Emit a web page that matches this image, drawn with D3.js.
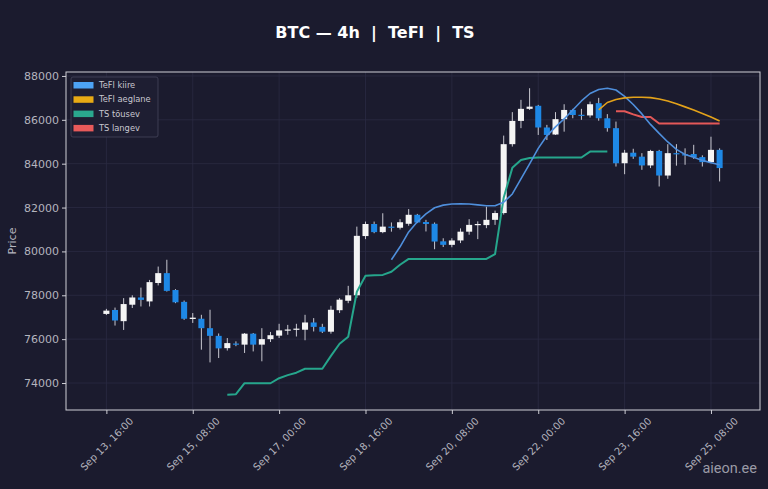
<!DOCTYPE html>
<html><head><meta charset="utf-8">
<script src="https://cdn.jsdelivr.net/npm/d3@7/dist/d3.min.js"></script>
<style>html,body{margin:0;padding:0;background:#1b1b2e;}svg{display:block;}</style>
</head><body>
<script>
// ---- data ----
const startTime = "2025-09-13T16:00:00Z"; // first candle, 4h interval
const opens  = [77150,77330,76820,77570,77900,77720,78560,79010,78240,77700,76920,76930,76500,76150,75590,75800,75750,76250,75750,76000,76160,76400,76440,76430,76760,76560,76340,77320,77750,78000,80700,81250,80880,81130,81080,81260,81670,81340,81260,80460,80300,80500,80900,81200,81200,81440,81750,84890,85950,86500,86640,85650,85330,86030,86450,86230,86200,86760,86070,85620,84020,84500,84320,83920,84580,83460,84480,84430,84440,84300,84070,84630];
const highs  = [77380,77440,77870,78000,78350,78700,79310,79620,78280,77760,77190,77110,77340,76260,76050,75900,76280,76280,76500,76330,76700,76650,76700,77110,76960,76700,77520,77870,78430,81130,81360,81360,81740,81320,81470,81930,81710,81440,81320,80600,80600,81050,81470,81370,82040,81860,85280,86350,86910,87440,86680,85770,86350,86710,86500,86500,86830,87000,86260,85920,84630,84680,84480,84630,84630,84890,84890,84700,84860,84380,85230,84700];
const lows   = [77100,76620,76420,77420,77490,77490,78450,78170,77640,76880,76740,75520,74940,75140,75480,75680,75370,75440,74990,75870,76050,76200,76120,75950,76350,76280,76250,77190,77640,77880,80560,80830,80830,80900,81000,81170,81290,80910,80100,80200,80190,80380,80760,80560,81060,81210,81680,84780,85620,86450,85310,85080,85310,85460,86070,86000,86100,85960,85460,83870,83520,84220,83720,83800,82960,83310,83910,83950,84220,83870,84020,83190];
const closes = [77300,76850,77600,77900,77790,78600,79010,78200,77680,76930,76980,76500,76150,75580,75820,75760,76250,75750,76000,76180,76400,76440,76480,76760,76560,76340,77340,77800,78000,80710,81250,80880,81130,81080,81330,81670,81320,81250,80450,80300,80500,80900,81210,81250,81440,81750,84890,85950,86500,86600,85650,85310,86030,86450,86220,86200,86710,86070,85620,84020,84500,84320,83920,84580,83460,84480,84430,84420,84300,84070,84630,83800];
const N = null;
const tefiKiire = [N,N,N,N,N,N,N,N,N,N,N,N,N,N,N,N,N,N,N,N,N,N,N,N,N,N,N,N,N,N,N,N,N,
  79620,80210,80890,81350,81710,81990,82110,82160,82170,82160,82120,82080,82080,82240,82620,83310,83990,84700,85270,85680,86040,86450,86860,87200,87380,87440,87360,87070,86700,86270,85790,85380,84990,84650,84420,84290,84150,84040,83950];
const tefiAeglane = [N,N,N,N,N,N,N,N,N,N,N,N,N,N,N,N,N,N,N,N,N,N,N,N,N,N,N,N,N,N,N,N,N,N,N,N,N,N,N,N,N,N,N,N,N,N,N,N,N,N,N,N,N,N,N,N,N,
  86450,86790,86930,87000,87030,87030,87010,86950,86860,86730,86590,86450,86290,86130,85950];
const tsTousev = [N,N,N,N,N,N,N,N,N,N,N,N,N,N,
  73470,73490,73990,73990,73990,73990,74220,74360,74470,74650,74650,74650,75240,75790,76110,78160,78890,78910,78930,79070,79390,79660,79660,79660,79660,79660,79660,79660,79660,79660,79660,79880,82450,83810,84170,84260,84280,84280,84280,84280,84280,84280,84550,84550,84550,
  N,N,N,N,N,N,N,N,N,N,N,N,N];
const tsLangev = [N,N,N,N,N,N,N,N,N,N,N,N,N,N,N,N,N,N,N,N,N,N,N,N,N,N,N,N,N,N,N,N,N,N,N,N,N,N,N,N,N,N,N,N,N,N,N,N,N,N,N,N,N,N,N,N,N,N,N,
  86390,86390,86250,86130,86130,85830,85830,85830,85830,85830,85830,85830,85830];
const xTickLabels = ["Sep 13, 16:00","Sep 15, 08:00","Sep 17, 00:00","Sep 18, 16:00","Sep 20, 08:00","Sep 22, 00:00","Sep 23, 16:00","Sep 25, 08:00"];
const xTickTimes  = ["2025-09-13T16:00:00Z","2025-09-15T08:00:00Z","2025-09-17T00:00:00Z","2025-09-18T16:00:00Z","2025-09-20T08:00:00Z","2025-09-22T00:00:00Z","2025-09-23T16:00:00Z","2025-09-25T08:00:00Z"];
const yTicks = [74000,76000,78000,80000,82000,84000,86000,88000];
const legendLabels = ["TeFl kiire","TeFl aeglane","TS tõusev","TS langev"];

// ---- layout ----
const W = 768, H = 489;
const plot = {l:66, t:72, r:760, b:410};
const HOUR = 3600e3;
const t0 = new Date(startTime).getTime();
const times = opens.map((_, i) => new Date(t0 + i*4*HOUR));

const x = d3.scaleUtc()
  .domain([new Date(t0 - 18.7*HOUR), new Date(new Date(xTickTimes[7]).getTime() + 22.7*HOUR)])
  .range([plot.l, plot.r]);
const y = d3.scaleLinear().domain([72770, 88180]).range([plot.b, plot.t]);

const C = {bg:"#1b1b2e", grid:"#2b2b42", frame:"#cfcfd6", text:"#b4b4be",
  up:"#f4f4f4", down:"#1e88e5", wick:"#c8c8d0",
  kiire:"#4f8fdc", aeglane:"#e3a21a", tous:"#26a68c", lang:"#e45858"};
const legendColors = ["#4da3f5", "#e8aa14", "#2aa88e", "#e85a5a"];

const svg = d3.select("body").append("svg").attr("width", W).attr("height", H);
svg.append("rect").attr("width", W).attr("height", H).attr("fill", C.bg);

// grid
const g = svg.append("g");
g.selectAll("line.gy").data(yTicks).join("line")
  .attr("x1", plot.l).attr("x2", plot.r).attr("y1", d => y(d)).attr("y2", d => y(d))
  .attr("stroke", C.grid).attr("stroke-width", 0.8);
const xt = xTickTimes.map(s => new Date(s));
g.selectAll("line.gx").data(xt).join("line")
  .attr("y1", plot.t).attr("y2", plot.b).attr("x1", d => x(d)).attr("x2", d => x(d))
  .attr("stroke", C.grid).attr("stroke-width", 0.8);

// axes
const yAxis = d3.axisLeft(y).tickValues(yTicks).tickFormat(d3.format("d")).tickSize(4).tickPadding(3);
const ya = svg.append("g").attr("transform", `translate(${plot.l},0)`).call(yAxis);
ya.select(".domain").remove();
ya.selectAll("line").attr("stroke", C.frame);
ya.selectAll("text").attr("fill", C.text).attr("font-size", 11).attr("font-family", "DejaVu Sans");

const xAxis = d3.axisBottom(x).tickValues(xt).tickFormat((d, i) => xTickLabels[i]).tickSize(4);
const xa = svg.append("g").attr("transform", `translate(0,${plot.b})`).call(xAxis);
xa.select(".domain").remove();
xa.selectAll("line").attr("stroke", C.frame);
xa.selectAll("text").attr("fill", C.text).attr("font-size", 10).attr("font-family", "DejaVu Sans")
  .attr("text-anchor", "middle").attr("dy", "0.35em").attr("y", 0)
  .attr("transform", "translate(0,34) rotate(-45)");

// candles
const bw = x(new Date(t0 + 2.8*HOUR)) - x(new Date(t0));
const cg = svg.append("g");
times.forEach((t, i) => {
  const cx = x(t);
  const up = closes[i] >= opens[i];
  cg.append("line").attr("x1", cx).attr("x2", cx).attr("y1", y(highs[i])).attr("y2", y(lows[i]))
    .attr("stroke", C.wick).attr("stroke-width", 1);
  const top = y(Math.max(opens[i], closes[i])), bot = y(Math.min(opens[i], closes[i]));
  cg.append("rect").attr("x", cx - bw/2).attr("width", bw)
    .attr("y", top).attr("height", Math.max(1.2, bot - top))
    .attr("fill", up ? C.up : C.down);
});

// lines
function drawLine(arr, color, w) {
  const line = d3.line().defined(d => d.v !== null).x(d => x(d.t)).y(d => y(d.v));
  svg.append("path").datum(arr.map((v, i) => ({t: times[i], v})))
    .attr("d", line).attr("fill", "none").attr("stroke", color).attr("stroke-width", w)
    .attr("stroke-linejoin", "round");
}
drawLine(tsTousev, C.tous, 2);
drawLine(tsLangev, C.lang, 2);
drawLine(tefiKiire, C.kiire, 1.6);
drawLine(tefiAeglane, C.aeglane, 1.6);

// frame
svg.append("rect").attr("x", plot.l).attr("y", plot.t).attr("width", plot.r - plot.l).attr("height", plot.b - plot.t)
  .attr("fill", "none").attr("stroke", C.frame).attr("stroke-width", 1);

// legend
const lg = svg.append("g").attr("transform", "translate(71,77)");
lg.append("rect").attr("width", 87).attr("height", 60).attr("rx", 2)
  .attr("fill", "#1e1e32").attr("stroke", "#45455a").attr("stroke-width", 0.8);
legendLabels.forEach((lab, i) => {
  const yy = 8 + i*14.3;
  lg.append("rect").attr("x", 2.5).attr("y", yy - 3).attr("width", 20).attr("height", 6.5).attr("fill", legendColors[i]);
  lg.append("text").attr("x", 28).attr("y", yy + 3).text(lab)
    .attr("fill", "#c8c8d0").attr("font-size", 8.3).attr("font-family", "DejaVu Sans");
});

// title & labels
svg.append("text").attr("x", 375).attr("y", 38).attr("text-anchor", "middle")
  .attr("fill", "#ffffff").attr("font-weight", "bold").attr("font-size", 16).attr("font-family", "DejaVu Sans")
  .text("BTC — 4h  |  TeFl  |  TS").style("white-space", "pre");
svg.append("text").attr("transform", `translate(16,${(plot.t + plot.b)/2}) rotate(-90)`)
  .attr("text-anchor", "middle").attr("fill", C.text).attr("font-size", 11).attr("font-family", "DejaVu Sans")
  .text("Price");
svg.append("text").attr("x", 757).attr("y", 473).attr("text-anchor", "end")
  .attr("fill", "#9a9aa6").attr("font-size", 14.5).attr("font-family", "Liberation Sans Narrow, Roboto, sans-serif")
  .text("aieon.ee");
</script>
</body></html>
